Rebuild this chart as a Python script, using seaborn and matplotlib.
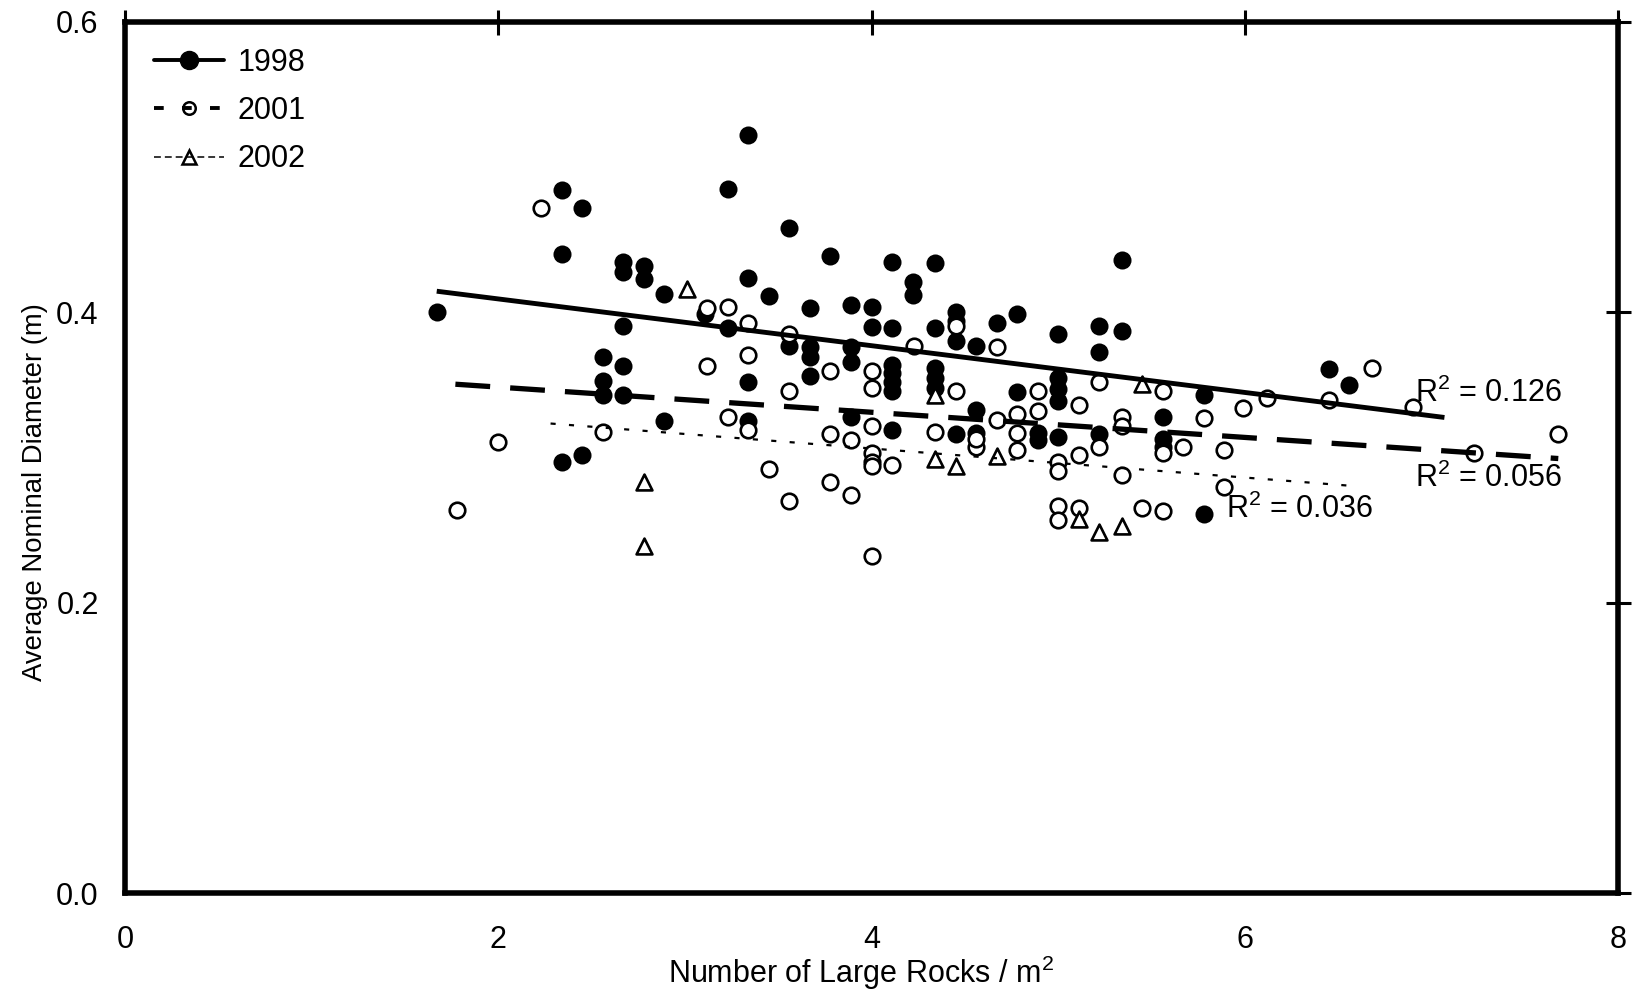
import numpy as np
import pandas as pd
import matplotlib
matplotlib.use("Agg")
import matplotlib.pyplot as plt
import seaborn as sns
from matplotlib.lines import Line2D

# ---------------- data ----------------
x_1998 = [1.67, 2.34, 2.34, 2.45, 2.34, 2.45, 2.56, 2.56, 2.56, 2.67, 2.67, 2.78, 2.78,
          2.67, 2.67, 2.67, 2.89, 2.89, 3.11, 3.23, 3.23, 3.34, 3.34, 3.34, 3.34, 3.45,
          3.56, 3.56, 3.67, 3.67, 3.67, 3.67, 3.78, 3.89, 3.89, 3.89, 3.89, 4.00, 4.00,
          4.11, 4.11, 4.11, 4.11, 4.11, 4.11, 4.11, 4.22, 4.22, 4.34, 4.34, 4.34, 4.34,
          4.34, 4.45, 4.45, 4.45, 4.45, 4.56, 4.56, 4.56, 4.67, 4.78, 4.78, 4.89, 4.89,
          5.00, 5.00, 5.00, 5.00, 5.00, 5.22, 5.22, 5.22, 5.34, 5.34, 5.56, 5.56, 5.56,
          5.78, 5.78, 6.45, 6.56]
y_1998 = [0.400, 0.484, 0.440, 0.472, 0.297, 0.302, 0.369, 0.353, 0.343, 0.435, 0.428, 0.432, 0.423,
          0.391, 0.363, 0.343, 0.413, 0.325, 0.399, 0.485, 0.389, 0.522, 0.424, 0.352, 0.325, 0.411,
          0.458, 0.377, 0.403, 0.376, 0.369, 0.356, 0.439, 0.405, 0.376, 0.366, 0.328, 0.404, 0.390,
          0.435, 0.389, 0.364, 0.358, 0.352, 0.346, 0.319, 0.421, 0.412, 0.434, 0.389, 0.362, 0.355,
          0.348, 0.400, 0.394, 0.380, 0.316, 0.377, 0.333, 0.317, 0.393, 0.399, 0.345, 0.317, 0.312,
          0.385, 0.355, 0.347, 0.339, 0.314, 0.391, 0.373, 0.316, 0.436, 0.387, 0.328, 0.313, 0.307,
          0.343, 0.261, 0.361, 0.350]

x_2001 = [1.78, 2.00, 2.23, 2.56, 3.12, 3.12, 3.23, 3.23, 3.34, 3.34, 3.34, 3.45, 3.56, 3.56,
          3.56, 3.78, 3.78, 3.78, 3.89, 3.89, 4.00, 4.00, 4.00, 4.00, 4.00, 4.00, 4.00, 4.11,
          4.23, 4.34, 4.45, 4.45, 4.56, 4.56, 4.67, 4.67, 4.78, 4.78, 4.78, 4.89, 4.89, 5.00,
          5.00, 5.00, 5.00, 5.11, 5.11, 5.11, 5.22, 5.22, 5.34, 5.34, 5.34, 5.45, 5.56, 5.56,
          5.56, 5.67, 5.78, 5.89, 5.89, 5.99, 6.12, 6.45, 6.68, 6.90, 7.23, 7.68]
y_2001 = [0.264, 0.311, 0.472, 0.318, 0.403, 0.363, 0.404, 0.328, 0.393, 0.371, 0.319, 0.292, 0.385, 0.346,
          0.270, 0.360, 0.316, 0.283, 0.312, 0.274, 0.360, 0.348, 0.322, 0.303, 0.297, 0.294, 0.232, 0.295,
          0.377, 0.318, 0.391, 0.346, 0.307, 0.313, 0.376, 0.326, 0.330, 0.317, 0.305, 0.346, 0.332, 0.297,
          0.291, 0.267, 0.257, 0.336, 0.302, 0.265, 0.352, 0.307, 0.328, 0.322, 0.288, 0.265, 0.346, 0.303,
          0.263, 0.307, 0.327, 0.305, 0.280, 0.334, 0.341, 0.340, 0.362, 0.335, 0.303, 0.316]

x_2002 = [2.78, 2.78, 3.01, 4.34, 4.34, 4.45, 4.67, 5.11, 5.22, 5.34, 5.45]
y_2002 = [0.283, 0.239, 0.416, 0.343, 0.299, 0.294, 0.301, 0.258, 0.249, 0.253, 0.351]

years = ["1998", "2001", "2002"]
fit_slope = [-0.0161, -0.00866, -0.0100]
fit_intercept = [0.4415, 0.3659, 0.3463]
fit_xmin = [1.67, 1.77, 2.28]
fit_xmax = [7.07, 7.68, 6.56]
r2_values = ["0.126", "0.056", "0.036"]
r2_x = [6.91, 6.91, 5.90]
r2_y = [0.3386, 0.2800, 0.2583]

xticks = [0, 2, 4, 6, 8]
yticks = [0.0, 0.2, 0.4, 0.6]
xlabel = "Number of Large Rocks / m$^{2}$"
ylabel = "Average Nominal Diameter (m)"

# ---------------- style ----------------
sns.set_theme(style="white")
plt.rcParams["font.family"] = ["Liberation Sans", "DejaVu Sans"]
plt.rcParams["mathtext.fontset"] = "custom"
plt.rcParams["mathtext.rm"] = "Liberation Sans"
plt.rcParams["mathtext.it"] = "Liberation Sans:italic"
plt.rcParams["mathtext.bf"] = "Liberation Sans:bold"
plt.rcParams["mathtext.default"] = "regular"
for key in ["text.color", "axes.labelcolor", "xtick.color", "ytick.color", "axes.edgecolor"]:
    plt.rcParams[key] = "black"

df = pd.concat([
    pd.DataFrame({"x": x_1998, "y": y_1998, "year": "1998"}),
    pd.DataFrame({"x": x_2001, "y": y_2001, "year": "2001"}),
    pd.DataFrame({"x": x_2002, "y": y_2002, "year": "2002"}),
], ignore_index=True)

fig = plt.figure(figsize=(16.35, 10), dpi=100)
ax = fig.add_axes([0.0765, 0.1067, 0.9131, 0.8713])

marker_kw = {
    "1998": dict(marker="o", s=169, color="black", edgecolor="black", linewidth=0),
    "2001": dict(marker="o", s=125, color="black", facecolor="white", edgecolor="black", linewidth=1.9),
    "2002": dict(marker="^", s=130, color="black", facecolor="white", edgecolor="black", linewidth=1.9),
}
for i, yr in enumerate(years):
    sub = df[df["year"] == yr]
    sns.scatterplot(data=sub, x="x", y="y", ax=ax, zorder=3 + i, legend=False, **marker_kw[yr])

line_kw = [
    dict(lw=3.5, linestyle="-", solid_capstyle="butt"),
    dict(lw=3.8, linestyle=(0, (6.6, 3.8)), dash_capstyle="butt"),
    dict(lw=1.6, linestyle=(0, (2.3, 6.0)), dash_capstyle="butt"),
]
for i in range(3):
    xs = np.array([fit_xmin[i], fit_xmax[i]])
    ys = fit_intercept[i] + fit_slope[i] * xs
    sns.lineplot(x=xs, y=ys, ax=ax, color="black", zorder=10, **line_kw[i])
    ax.text(r2_x[i], r2_y[i], "R$^{2}$ = " + r2_values[i], fontsize=22,
            ha="left", va="baseline", color="black", zorder=11)

ax.set_xlim(0, 8)
ax.set_ylim(0, 0.6)
ax.set_xticks(xticks)
ax.set_xticklabels([str(t) for t in xticks])
ax.set_yticks(yticks)
ax.set_yticklabels([f"{t:.1f}" for t in yticks])

for sp in ax.spines.values():
    sp.set_visible(True)
    sp.set_color("black")
    sp.set_linewidth(4)
ax.tick_params(axis="both", which="major", direction="inout", length=18, width=2.2,
               top=True, right=True, colors="black", labelsize=22)
ax.tick_params(axis="x", pad=14)
ax.tick_params(axis="y", pad=10)

ax.set_xlabel(xlabel, fontsize=22, va="baseline", color="black")
ax.set_ylabel(ylabel, fontsize=19.8, va="baseline", color="black")
ax.xaxis.set_label_coords(0.4928, -0.1025)
ax.yaxis.set_label_coords(-0.0558, 0.4606)

handles = [
    Line2D([], [], color="black", lw=2.8, marker="o", ms=13, mfc="black", mec="black"),
    Line2D([], [], color="black", lw=2.8, linestyle=(0, (2.5, 4.7)), marker="o", ms=9,
           mfc="none", mec="black", mew=1.8),
    Line2D([], [], color="black", lw=1.1, linestyle=(0, (4.5, 2.6)), marker="^", ms=10,
           mfc="none", mec="black", mew=1.8),
]
ax.legend(handles, years, loc="upper left", bbox_to_anchor=(0.0194, 0.970), frameon=False,
          fontsize=22, handlelength=2.29, handletextpad=0.43, labelspacing=0.59,
          borderpad=0, borderaxespad=0)

fig.savefig("out.png", dpi=100)
